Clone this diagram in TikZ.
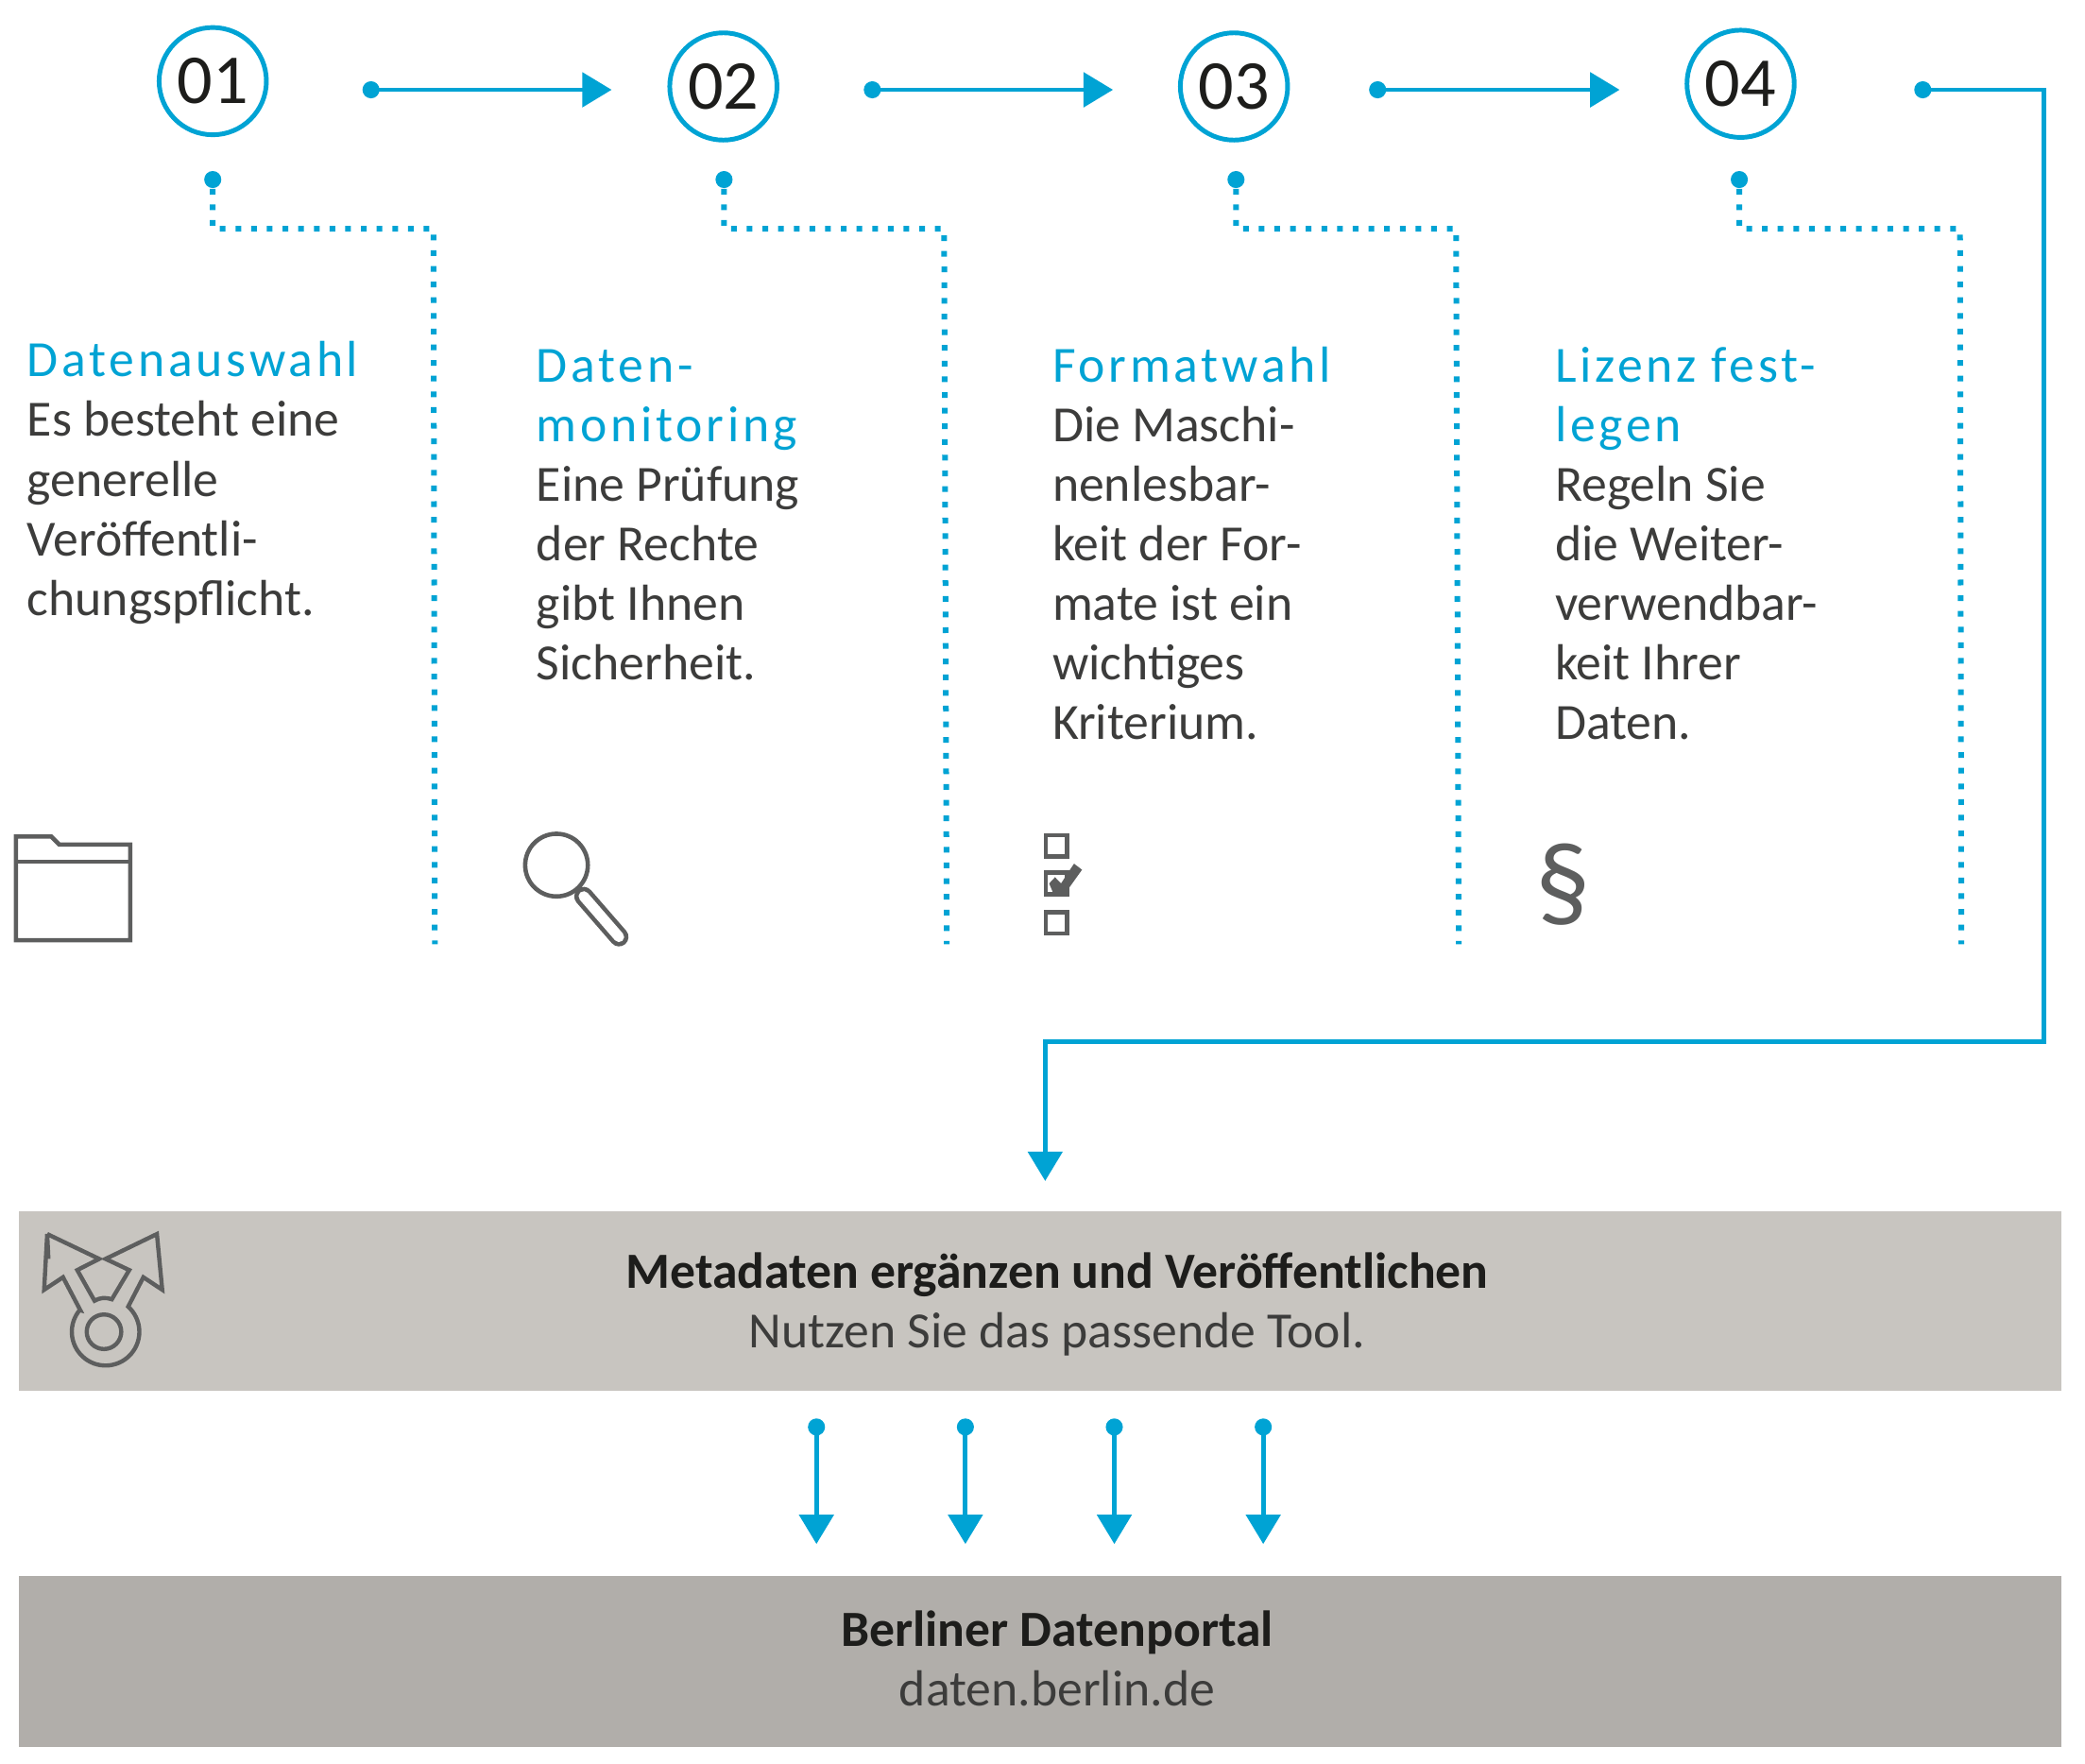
\documentclass[tikz,border=0pt]{standalone}
\usepackage{fontspec}
\usetikzlibrary{arrows.meta,shapes.geometric}
\setmainfont{Carlito}
\newfontfamily\hdfont[LetterSpace=7]{Carlito}
\definecolor{blau}{HTML}{00A3D4}
\definecolor{txt}{HTML}{3C3C3B}
\definecolor{schwarz}{HTML}{1D1D1B}
\definecolor{ikon}{HTML}{5D5E5E}
\definecolor{bara}{HTML}{C8C5C0}
\definecolor{barb}{HTML}{B1AEAA}
\newcommand{\hd}[1]{{\hdfont\color{blau}#1}}
\tikzset{
  x=0.014cm,y=-0.014cm,
  numcirc/.style={circle,draw=blau,line width=1.4pt,minimum size=1.13cm,inner sep=0pt,font=\fontsize{21}{21}\selectfont,text=schwarz},
  dotnode/.style={circle,fill=blau,minimum size=0.18cm,inner sep=0pt},
  flow/.style={draw=blau,line width=1.4pt,-{Triangle[length=3.1mm,width=3.6mm,sep=0pt]},blau},
  dots/.style={draw=blau,line width=1.7pt,dash pattern=on 1.7pt off 3pt},
  body/.style={anchor=north west,inner sep=0pt,align=left,text=txt,font=\fontsize{15.2}{17.86}\selectfont},
  barnode/.style={anchor=north west,inner sep=0pt,outer sep=0pt,minimum width=21.518cm},
  bartxt/.style={inner sep=0pt,align=center,text=txt,font=\fontsize{15.2}{17.86}\selectfont},
  icon/.style={draw=ikon,line width=1.3pt,miter limit=8},
}
\begin{document}
\begin{tikzpicture}
\useasboundingbox (0,0) rectangle (1568,1326);
% number circles
\node[numcirc] (n1) at (160,61) {01};
\node[numcirc] (n2) at (544,65) {02};
\node[numcirc] (n3) at (928,65) {03};
\node[numcirc] (n4) at (1309,63) {04};
% solid connectors
\node[dotnode] (a1) at (279,67.5) {};
\node[dotnode] (a2) at (656,67.5) {};
\node[dotnode] (a3) at (1036,67.5) {};
\node[dotnode] (a4) at (1446,67.5) {};
\coordinate (t1) at (460,67.5);
\coordinate (t2) at (837,67.5);
\coordinate (t3) at (1218,67.5);
\coordinate (c1) at (1537,67.5);
\coordinate (c2) at (1537,783);
\coordinate (c3) at (786,783);
\coordinate (t4) at (786,888);
\draw[flow] (a1.center) -- (t1);
\draw[flow] (a2.center) -- (t2);
\draw[flow] (a3.center) -- (t3);
\draw[flow] (a4.center) -- (c1) -- (c2) -- (c3) -- (t4);
% dotted connectors
\node[dotnode] (b1) at (160,135) {};
\node[dotnode] (b2) at (544.5,135) {};
\node[dotnode] (b3) at (929.5,135) {};
\node[dotnode] (b4) at (1308,135) {};
\coordinate (e1a) at (160,172); \coordinate (e1b) at (326,172); \coordinate (e1c) at (327,710);
\coordinate (e2a) at (544.5,172); \coordinate (e2b) at (710,172); \coordinate (e2c) at (712,710);
\coordinate (e3a) at (929.5,172); \coordinate (e3b) at (1095,172); \coordinate (e3c) at (1097,710);
\coordinate (e4a) at (1308,172); \coordinate (e4b) at (1474,172); \coordinate (e4c) at (1475,710);
\draw[dots] (b1.south) -- (e1a) -- (e1b) -- (e1c);
\draw[dots] (b2.south) -- (e2a) -- (e2b) -- (e2c);
\draw[dots] (b3.south) -- (e3a) -- (e3b) -- (e3c);
\draw[dots] (b4.south) -- (e4a) -- (e4b) -- (e4c);
% texts
\node[body] (s1) at (20,251.5) {\strut\hd{Datenauswahl}\\Es besteht eine\\generelle\\Veröffentli-\\chungspflicht.};
\node[body] (s2) at (403,255.5) {\strut\hd{Daten-}\\\hd{monitoring}\\Eine Prüfung\\der Rechte\\gibt Ihnen\\Sicherheit.};
\node[body] (s3) at (791,255.5) {\strut\hd{Formatwahl}\\Die Maschi-\\nenlesbar-\\keit der For-\\mate ist ein\\wichtiges\\Kriterium.};
\node[body] (s4) at (1169,255.5) {\strut\hd{Lizenz fest-}\\\hd{legen}\\Regeln Sie\\die Weiter-\\verwendbar-\\keit Ihrer\\Daten.};
% folder icon
\draw[icon] (12,629) -- (38.5,629) -- (44.5,635) -- (98,635) -- (98,707) -- (12,707) -- cycle;
\draw[icon] (12,648) -- (98,648);
% magnifier icon
\draw[ikon,line width=5.7pt,line cap=round] (439,674) -- (465.5,704.5);
\draw[white,line width=3.1pt,line cap=round] (439,674) -- (465.5,704.5);
\draw[icon,fill=white] (418.5,650.5) circle[radius=0.33cm];
% checklist icon
\draw[icon] (786.5,628) rectangle (802.5,644);
\draw[icon] (786.5,656) rectangle (802.5,672.5);
\draw[icon] (786.5,686) rectangle (802.5,702);
\fill[ikon] (807.7,649.4) -- (813.7,654) -- (800.8,672) -- (792,671.4) -- (789,664.3) -- (793.4,659.6) -- (797.9,664.3) -- cycle;
% paragraph icon
\node[inner sep=0pt,text=ikon,font=\fontsize{33}{33}\selectfont] (par) at (1175.5,665) {§};
% bars
\node[barnode,fill=bara,minimum height=1.89cm] (bar1) at (14,911) {};
\node[barnode,fill=barb,minimum height=1.806cm] (bar2) at (14,1185) {};
\node[bartxt] (m1) at (795,981) {{\bfseries\color{schwarz}Metadaten ergänzen und Veröffentlichen}\\Nutzen Sie das passende Tool.};
\node[bartxt] (m2) at (795,1247) {{\bfseries\color{schwarz}Berliner Datenportal}\\daten.berlin.de};
% meta icon
\draw[icon,line join=miter,line width=1.25pt]
  (36.4,946.6) -- (35.5,927.9) -- (33.2,969.8) -- (47.4,960.4) -- (60.4,985.2)
  -- plot[domain=140:408,samples=50] ({79.4+25.4*cos(\x)},{1001.4-25.4*sin(\x)})
  -- (107.8,960.4) -- (122,969.8) -- (118,927.9) -- (79.4,946.6) -- (97.2,955) -- (84.1,977)
  .. controls (79,975.5) and (76,975.5) .. (71.1,978.1)
  -- (58.1,955) -- (74.6,946.6) -- (35.5,927.9);
\draw[icon,line width=1.25pt] (78.2,1001.4) circle[radius=0.182cm];
% lower connectors
\node[dotnode] (d1) at (614,1073) {};
\node[dotnode] (d2) at (726,1073) {};
\node[dotnode] (d3) at (838,1073) {};
\node[dotnode] (d4) at (950,1073) {};
\coordinate (f1) at (614,1161); \coordinate (f2) at (726,1161); \coordinate (f3) at (838,1161); \coordinate (f4) at (950,1161);
\draw[flow] (d1.center) -- (f1);
\draw[flow] (d2.center) -- (f2);
\draw[flow] (d3.center) -- (f3);
\draw[flow] (d4.center) -- (f4);
\end{tikzpicture}
\end{document}
